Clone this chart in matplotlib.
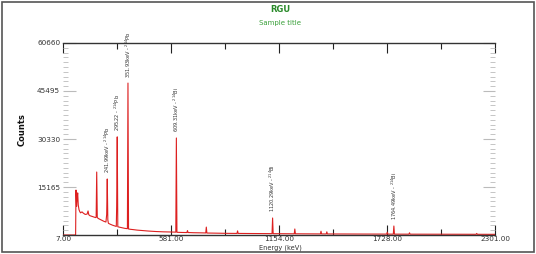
import matplotlib
matplotlib.use("Agg")
import matplotlib.pyplot as plt
from matplotlib.ticker import FixedLocator, MultipleLocator
from matplotlib.patches import Rectangle

# ---- data ----
energy = [7, 70, 74, 76, 79, 82, 85, 88, 92, 96, 100, 108, 115, 125, 135, 140, 144,
          150, 160, 170, 180, 183, 186, 189, 195, 205, 215, 225, 235, 239, 242, 245,
          248, 258, 270, 280, 290, 292, 295, 298, 305, 320, 335, 349, 352, 355, 365,
          380, 400, 430, 460, 500, 540, 580, 606, 609, 612, 640, 665, 668, 671, 700,
          740, 765, 768, 771, 800, 840, 880, 931, 934, 937, 1000, 1060, 1117, 1120,
          1123, 1180, 1235, 1238, 1241, 1300, 1374, 1377, 1380, 1405, 1408, 1411,
          1500, 1600, 1700, 1726, 1729, 1732, 1761, 1764, 1767, 1844, 1847, 1850,
          1950, 2050, 2150, 2201, 2204, 2207, 2301]
counts = [0, 0, 0, 14200, 9000, 11500, 13300, 9500, 8000, 7400, 7000, 7300, 6900,
          6500, 6600, 7600, 6400, 6100, 5900, 5700, 5500, 5600, 19900, 5500, 5200,
          4900, 4600, 4300, 4100, 6500, 17700, 4800, 3700, 3400, 3100, 2900, 2700,
          9000, 31000, 2600, 2500, 2300, 2100, 2000, 48000, 1900, 1800, 1700, 1550,
          1400, 1250, 1100, 1000, 950, 900, 30650, 850, 800, 780, 1400, 780, 720,
          680, 650, 2500, 620, 600, 560, 520, 500, 1300, 500, 470, 450, 430, 5370,
          420, 400, 380, 1900, 380, 360, 340, 1200, 340, 330, 1000, 330, 320, 300,
          290, 280, 900, 280, 270, 2840, 270, 260, 700, 260, 250, 240, 230, 220,
          500, 220, 210]

peak_energy = [241.99, 295.22, 351.93, 609.31, 1120.29, 1764.49]
peak_height = [17700, 31000, 48000, 30650, 5370, 2840]
peak_labels = ["241.99keV - $^{214}$Pb", "295.22 - $^{214}$Pb",
               "351.93keV - $^{214}$Pb", "609.31keV - $^{214}$Bi",
               "1120.29keV - $^{214}$Bi", "1764.49keV - $^{214}$Bi"]

x_ticks = [7.00, 581.00, 1154.00, 1728.00, 2301.00]
x_tick_labels = ["7.00", "581.00", "1154.00", "1728.00", "2301.00"]
y_ticks = [15165, 30330, 45495, 60660]
y_tick_labels = ["15165", "30330", "45495", "60660"]

title = "RGU"
subtitle = "Sample title"
x_label = "Energy (keV)"
y_label = "Counts"

# ---- figure ----
fig = plt.figure(figsize=(5.36, 2.54), dpi=100)
fig.patch.set_facecolor("white")
fig.add_artist(Rectangle((0.004, 0.006), 0.992, 0.988, transform=fig.transFigure,
                         fill=False, edgecolor="#555555", linewidth=1.2))

ax = fig.add_axes([63 / 536, 1 - 235 / 254, (495 - 63) / 536, (235 - 43) / 254])
ax.plot(energy, counts, color="#dd2020", linewidth=0.8)
ax.set_xlim(x_ticks[0], x_ticks[-1])
ax.set_ylim(0, y_ticks[-1])

for e, h, lab in zip(peak_energy, peak_height, peak_labels):
    ax.annotate(lab, xy=(e, h), xytext=(0, 4), textcoords="offset points",
                rotation=90, ha="center", va="bottom", fontsize=3.6,
                color="#333333")

ax.xaxis.set_major_locator(FixedLocator(x_ticks))
ax.set_xticklabels(x_tick_labels)
ax.xaxis.set_minor_locator(FixedLocator(
    [x_ticks[i] + (x_ticks[i + 1] - x_ticks[i]) / 2 for i in range(len(x_ticks) - 1)]))
ax.yaxis.set_major_locator(FixedLocator(y_ticks))
ax.set_yticklabels(y_tick_labels)
ax.yaxis.set_minor_locator(MultipleLocator(y_ticks[0] / 10))

ax.tick_params(axis="x", which="major", direction="in", length=7, width=0.8,
               color="#222222", top=True, labelsize=5.2, labelcolor="#333333", pad=0.8)
ax.tick_params(axis="x", which="minor", direction="in", length=4, width=0.8,
               color="#222222", top=True)
ax.tick_params(axis="y", which="major", direction="in", length=9, width=0.8,
               color="#bbbbbb", right=True, labelsize=5.2, labelcolor="#333333", pad=2)
ax.tick_params(axis="y", which="minor", direction="in", length=3.5, width=0.6,
               color="#bbbbbb", right=True)

for s in ("left", "right"):
    ax.spines[s].set_visible(False)
for s in ("top", "bottom"):
    ax.spines[s].set_color("#333333")
    ax.spines[s].set_linewidth(1.0)

fig.text(280 / 536, 1 - 10 / 254, title, ha="center", va="center", fontsize=6,
         fontweight="bold", color="#2a8a2a")
fig.text(280 / 536, 1 - 23 / 254, subtitle, ha="center", va="center", fontsize=5,
         color="#3aa03a")
fig.text(280 / 536, 1 - 248 / 254, x_label, ha="center", va="center", fontsize=4.8,
         color="#333333")
fig.text(22 / 536, 1 - 130 / 254, y_label, ha="center", va="center", fontsize=6,
         fontweight="bold", rotation=90, color="#111111")

fig.savefig("out.png", dpi=100)
